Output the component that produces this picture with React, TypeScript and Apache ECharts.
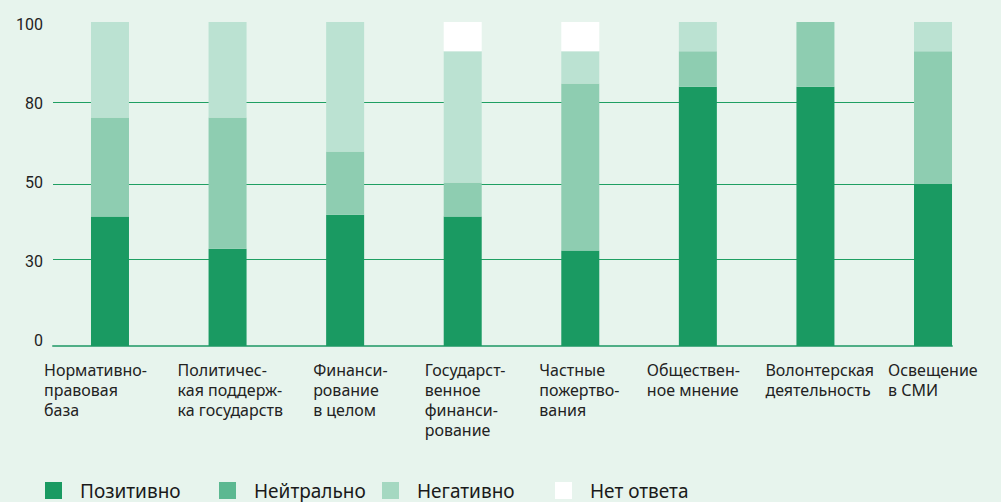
import React, { useEffect, useRef } from "react";
import * as echarts from "echarts";

const categories = [
  "Нормативно-\nправовая\nбаза",
  "Политичес-\nкая поддерж-\nка государств",
  "Финанси-\nрование\nв целом",
  "Государст-\nвенное\nфинанси-\nрование",
  "Частные\nпожертво-\nвания",
  "Обществен-\nное мнение",
  "Волонтерская\nдеятельность",
  "Освещение\nв СМИ",
];
const labelShift = [-66, -50, -32, -38, -41, -51, -50, -45];

const seriesNames = ["Позитивно", "Нейтрально", "Негативно", "Нет ответа"];
const positive = [40, 30, 40.5, 40, 29.5, 80, 80, 50];
const neutral = [30.5, 40.5, 19.5, 10.5, 51.5, 11, 20, 41];
const negative = [29.5, 29.5, 40, 40.5, 10, 9, 0, 9];
const noAnswer = [0, 0, 0, 9, 9, 0, 0, 0];

const yTickLabels = ["0", "30", "50", "80", "100"];
const yLabelValues = [1.85, 26.2, 50.6, 74.9, 99.3];
const yGridValues = [0, 26.7, 50, 75.1];

const barColors = ["#1a9a62", "#8ecdb1", "#bbe2d2", "#ffffff"];
const legendColors = ["#1a9a62", "#5cb891", "#a5d8c1", "#ffffff"];
const legendLefts = [45, 219, 382, 555];

const FONT = "Noto Sans";

export default function App() {
  const ref = useRef<HTMLDivElement>(null);
  useEffect(() => {
    if (!ref.current) return;
    const chart = echarts.init(ref.current, undefined, { renderer: "svg" });
    const values = [positive, neutral, negative, noAnswer];
    const option: any = {
      animation: false,
      backgroundColor: "#e7f4ed",
      textStyle: { fontFamily: FONT },
      grid: [
        { left: 53, right: 49, top: 22, bottom: 156 },
        { left: 51.2, right: 9.2, top: 22, bottom: 156 },
      ],
      xAxis: [
        {
          gridIndex: 0,
          type: "category",
          data: categories,
          position: "top",
          axisLine: { show: true, lineStyle: { color: "#4fae86", width: 2 } },
          axisTick: { show: false },
          axisLabel: { show: false },
          splitLine: { show: false },
        },
        {
          gridIndex: 1,
          type: "category",
          data: categories.map((c, i) => ({
            value: c,
            textStyle: {
              align: "left",
              verticalAlign: "top",
              padding: [0, 0, 0, labelShift[i]],
            },
          })),
          axisLine: { show: false },
          axisTick: { show: false },
          axisLabel: {
            interval: 0,
            align: "left",
            verticalAlign: "top",
            margin: 14,
            fontSize: 16,
            lineHeight: 20,
            color: "#222222",
            fontFamily: FONT,
          },
        },
      ],
      yAxis: [
        {
          gridIndex: 0,
          type: "value",
          min: 0,
          max: 100,
          axisLine: { show: false },
          axisTick: { show: false, customValues: yGridValues },
          axisLabel: {
            customValues: yLabelValues,
            margin: 10,
            fontSize: 16,
            color: "#222222",
            fontFamily: "Roboto",
            formatter: (v: number) => {
              let best = 0;
              yLabelValues.forEach((lv, i) => {
                if (Math.abs(lv - v) < Math.abs(yLabelValues[best] - v)) best = i;
              });
              return yTickLabels[best];
            },
          },
          splitLine: { show: true, lineStyle: { color: "#1f9f62", width: 1 } },
        },
        {
          gridIndex: 1,
          type: "value",
          min: 0,
          max: 100,
          show: false,
          splitLine: { show: false },
        },
      ],
      legend: seriesNames.map((n, i) => ({
        data: [{ name: n, itemStyle: { color: legendColors[i] } }],
        left: legendLefts[i],
        top: 481,
        padding: 0,
        icon: "rect",
        itemWidth: 17,
        itemHeight: 17,
        selectedMode: false,
        textStyle: {
          fontSize: 19,
          color: "#1a1a1a",
          fontFamily: FONT,
          padding: [0, 0, 0, 13],
        },
      })),
      series: seriesNames.map((n, i) => ({
        name: n,
        type: "bar",
        stack: "total",
        xAxisIndex: 1,
        yAxisIndex: 1,
        barWidth: 38,
        data: values[i],
        itemStyle: { color: barColors[i] },
        emphasis: { disabled: true },
      })),
    };
    chart.setOption(option);
    return () => chart.dispose();
  }, []);
  return (
    <div
      ref={ref}
      style={{ position: "absolute", left: 0, top: 0, width: 1001, height: 502 }}
    />
  );
}
